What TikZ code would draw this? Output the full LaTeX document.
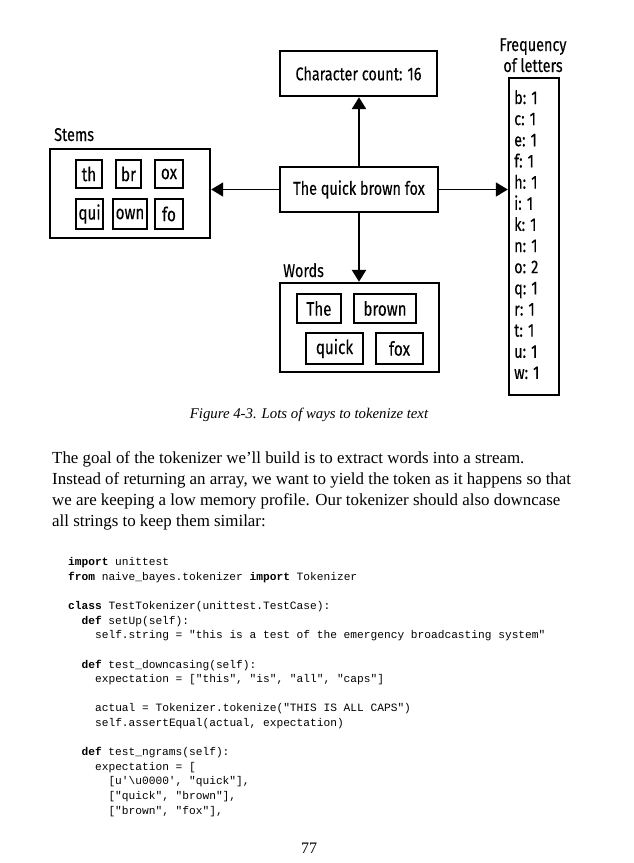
\documentclass[tikz,border=0pt]{standalone}
\usepackage{fontspec}
\setmainfont{Liberation Serif}
\setmonofont{Liberation Mono}
\newfontfamily\diagfont[FakeStretch=0.78,FakeBold=0.2]{Fira Sans}
\usetikzlibrary{arrows.meta}
\begin{document}
\begin{tikzpicture}[x=1pt,y=-1pt,
  bigbox/.style={draw, line width=2.4pt, inner sep=0pt},
  smallbox/.style={draw, line width=2.1pt, inner sep=0pt, font=\diagfont\fontsize{19.5}{21}\selectfont},
  diagtext/.style={inner sep=0pt, font=\diagfont\fontsize{18.5}{20}\selectfont},
  mainbox/.style={bigbox, font=\diagfont\fontsize{18.5}{20}\selectfont},
  vline/.style={line width=2.6pt, -{Triangle[width=14pt,length=12pt]}},
  hline/.style={line width=1.8pt, -{Triangle[width=14pt,length=12pt]}},
  bodyline/.style={anchor=base west, inner sep=0pt, font=\fontsize{16.9}{21}\selectfont},
  codeline/.style={anchor=base west, inner sep=0pt, font=\ttfamily\fontsize{11.2}{14}\selectfont},
]
\useasboundingbox (0,0) rectangle (633,863);

% ---- main boxes
\node[mainbox, minimum width=157, minimum height=45] (cc) at (358.5,73.5) {Character count: 16};
\node[mainbox, minimum width=158, minimum height=45] (qbf) at (359,189.5) {The quick brown fox};
\node[bigbox, minimum width=160, minimum height=89] (stems) at (130,193.5) {};
\node[bigbox, minimum width=159, minimum height=89] (words) at (359.5,327.5) {};
\node[bigbox, minimum width=50, minimum height=317] (freq) at (534,236.5) {};

% ---- labels
\node[diagtext, anchor=base west] (stemslbl) at (54,141) {Stems};
\node[diagtext, anchor=base west] (wordslbl) at (283,277) {Words};
\node[diagtext, anchor=base] (freqlbl1) at (533,51) {Frequency};
\node[diagtext, anchor=base] (freqlbl2) at (533,72) {of letters};

% ---- stems
\node[smallbox, minimum width=26, minimum height=28] (s1) at (89,174) {th};
\node[smallbox, minimum width=25, minimum height=28] (s2) at (128.5,174) {br};
\node[smallbox, minimum width=28, minimum height=28] (s3) at (169,174) {ox};
\node[smallbox, minimum width=27, minimum height=30] (s4) at (89.5,214) {qui};
\node[smallbox, minimum width=34, minimum height=30] (s5) at (130,214) {own};
\node[smallbox, minimum width=28, minimum height=30] (s6) at (169,214) {fo};

% ---- words
\node[smallbox, minimum width=44, minimum height=29] (w1) at (319,308.5) {The};
\node[smallbox, minimum width=62, minimum height=29] (w2) at (385,308.5) {brown};
\node[smallbox, minimum width=57, minimum height=31] (w3) at (334.5,348.5) {quick};
\node[smallbox, minimum width=47, minimum height=31] (w4) at (399.5,348.5) {fox};

% ---- frequencies
\foreach \t [count=\i from 0] in {b: 1,c: 1,e: 1,f: 1,h: 1,i: 1,k: 1,n: 1,o: 2,q: 1,r: 1,t: 1,u: 1,w: 1}
  \node[diagtext, anchor=base west] (f\i) at (514,104+21.15*\i) {\t};

% ---- connectors
\draw[vline] (qbf.north) -- (qbf.north |- cc.south);
\draw[vline] (qbf.south) -- (qbf.south |- words.north);
\draw[hline] (qbf.west) -- (qbf.west -| stems.east);
\draw[hline] (qbf.east) -- (qbf.east -| freq.west);

% ---- caption
\node[anchor=base, inner sep=0pt, font=\itshape\fontsize{14.8}{16}\selectfont] (caption) at (309,418) {Figure 4-3. Lots of ways to tokenize text};

% ---- paragraph
\node[bodyline] (p1) at (52,463) {The goal of the tokenizer we’ll build is to extract words into a stream.};
\node[bodyline] (p2) at (52,484) {Instead of returning an array, we want to yield the token as it happens so that};
\node[bodyline] (p3) at (52,505) {we are keeping a low memory profile. Our tokenizer should also downcase};
\node[bodyline] (p4) at (52,526) {all strings to keep them similar:};

% ---- code (baseline = 565.8 + 14.6 * line index)
\node[codeline] (c1) at (68,565.8) {\textbf{import} unittest};
\node[codeline] (c2) at (68,580.4) {\textbf{from} naive\_bayes.tokenizer \textbf{import} Tokenizer};
\node[codeline] (c3) at (68,609.6) {\textbf{class} TestTokenizer(unittest.TestCase):};
\node[codeline] (c4) at (81.4,624.2) {\textbf{def} setUp(self):};
\node[codeline] (c5) at (94.9,638.8) {self.string = "this is a test of the emergency broadcasting system"};
\node[codeline] (c6) at (81.4,668) {\textbf{def} test\_downcasing(self):};
\node[codeline] (c7) at (94.9,682.6) {expectation = ["this", "is", "all", "caps"]};
\node[codeline] (c8) at (94.9,711.8) {actual = Tokenizer.tokenize("THIS IS ALL CAPS")};
\node[codeline] (c9) at (94.9,726.4) {self.assertEqual(actual, expectation)};
\node[codeline] (c10) at (81.4,755.6) {\textbf{def} test\_ngrams(self):};
\node[codeline] (c11) at (94.9,770.2) {expectation = [};
\node[codeline] (c12) at (108.3,784.8) {[u'\textbackslash u0000', "quick"],};
\node[codeline] (c13) at (108.3,799.4) {["quick", "brown"],};
\node[codeline] (c14) at (108.3,814) {["brown", "fox"],};

% ---- page number
\node[anchor=base, inner sep=0pt, font=\fontsize{16}{18}\selectfont] (pagenum) at (309,853) {77};
\end{tikzpicture}
\end{document}
